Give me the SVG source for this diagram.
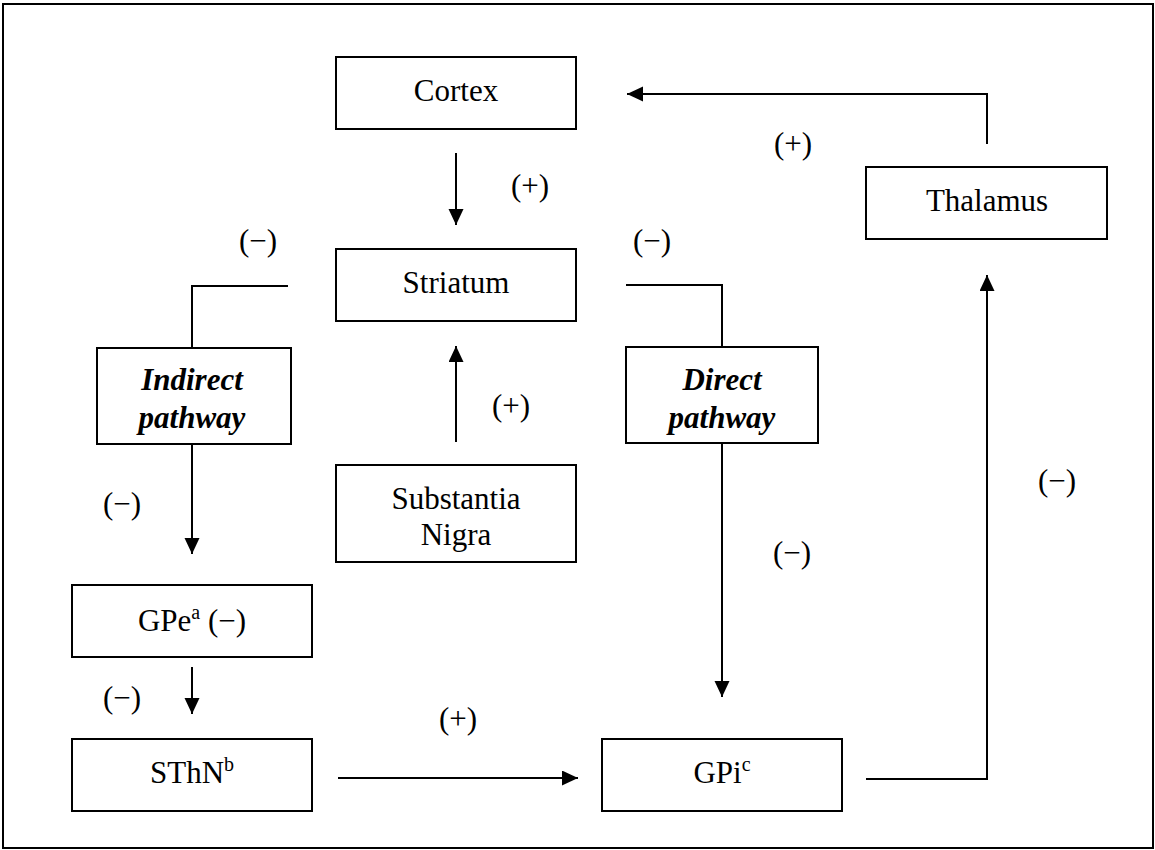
<svg xmlns="http://www.w3.org/2000/svg" width="1155" height="850" viewBox="0 0 1155 850">
<style>
.box{fill:#fff;stroke:#000;stroke-width:2}
.ln{fill:none;stroke:#000;stroke-width:2}
text{font-family:"Liberation Serif","Times New Roman",serif;font-size:31px;fill:#000;text-anchor:middle}
.bi{font-weight:bold;font-style:italic}
.sup{font-size:20px}
</style>
<defs>
<marker id="ah" markerUnits="userSpaceOnUse" markerWidth="17" markerHeight="16" refX="16" refY="7.5" orient="auto">
<path d="M0,0 L16,7.5 L0,15 z" fill="#000"/>
</marker>
</defs>
<rect x="0" y="0" width="1155" height="850" fill="#fff"/>
<rect x="3" y="4" width="1150" height="844" class="ln"/>

<g id="connectors">
<line x1="456" y1="153" x2="456" y2="225" class="ln" marker-end="url(#ah)"/>
<line x1="456" y1="442" x2="456" y2="346" class="ln" marker-end="url(#ah)"/>
<polyline points="288,286 192,286 192,348" class="ln"/>
<line x1="192" y1="444" x2="192" y2="554" class="ln" marker-end="url(#ah)"/>
<polyline points="626,285 722,285 722,347" class="ln"/>
<line x1="722" y1="443" x2="722" y2="697" class="ln" marker-end="url(#ah)"/>
<line x1="192" y1="667" x2="192" y2="714" class="ln" marker-end="url(#ah)"/>
<line x1="338" y1="778" x2="578" y2="778" class="ln" marker-end="url(#ah)"/>
<polyline points="866,779 987,779 987,275" class="ln" marker-end="url(#ah)"/>
<polyline points="987,144 987,94 627,94" class="ln" marker-end="url(#ah)"/>
</g>

<g id="labels">
<text x="530" y="196">(+)</text>
<text x="258" y="251">(−)</text>
<text x="652" y="251">(−)</text>
<text x="511" y="416">(+)</text>
<text x="122" y="514">(−)</text>
<text x="792" y="563">(−)</text>
<text x="1057" y="491">(−)</text>
<text x="122" y="708">(−)</text>
<text x="458" y="729">(+)</text>
<text x="793" y="154">(+)</text>
</g>

<g id="cortex"><rect x="336" y="57" width="240" height="72" class="box"/><text x="456" y="101">Cortex</text></g>
<g id="striatum"><rect x="336" y="249" width="240" height="72" class="box"/><text x="456" y="293">Striatum</text></g>
<g id="thalamus"><rect x="866" y="167" width="241" height="72" class="box"/><text x="987" y="211">Thalamus</text></g>
<g id="indirect"><rect x="97" y="348" width="194" height="96" class="box"/><text x="192" y="390" class="bi">Indirect</text><text x="192" y="428" class="bi">pathway</text></g>
<g id="direct"><rect x="626" y="347" width="192" height="96" class="box"/><text x="722" y="390" class="bi">Direct</text><text x="722" y="428" class="bi">pathway</text></g>
<g id="substantia"><rect x="336" y="465" width="240" height="97" class="box"/><text x="456" y="509">Substantia</text><text x="456" y="545">Nigra</text></g>
<g id="gpe"><rect x="72" y="585" width="240" height="72" class="box"/><text x="192" y="631">GPe<tspan class="sup" dy="-12">a</tspan><tspan dy="12"> (−)</tspan></text></g>
<g id="sthn"><rect x="72" y="739" width="240" height="72" class="box"/><text x="192" y="783">SThN<tspan class="sup" dy="-12">b</tspan></text></g>
<g id="gpi"><rect x="602" y="739" width="240" height="72" class="box"/><text x="722" y="783">GPi<tspan class="sup" dy="-12">c</tspan></text></g>
</svg>
